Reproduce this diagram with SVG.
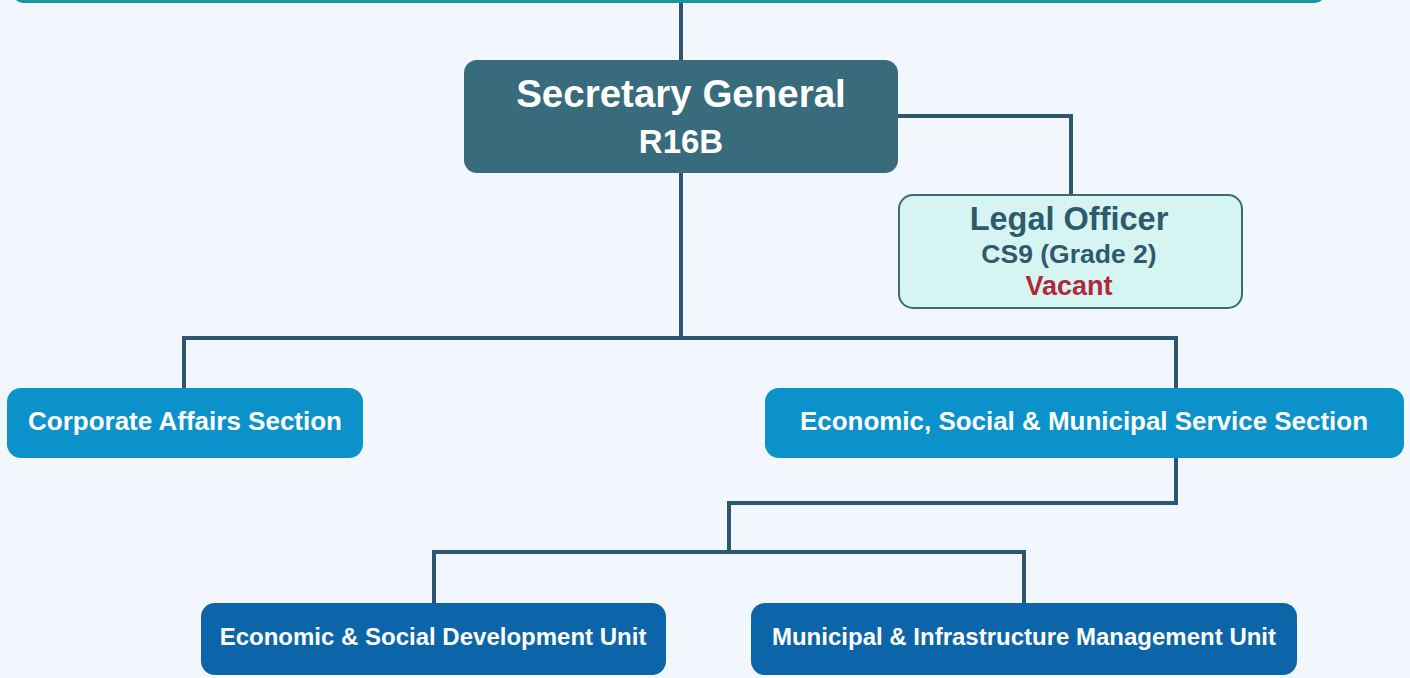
<svg xmlns="http://www.w3.org/2000/svg" width="1410" height="678" viewBox="0 0 1410 678">
<style>
text{font-family:"Liberation Sans",Arial,sans-serif;font-weight:bold;text-anchor:middle}
.w{fill:#ffffff}
.conn{fill:none;stroke:#2f5670;stroke-width:4;stroke-linejoin:miter}
.sec{fill:#0b92cb}
.unit{fill:#0c65a9}
</style>
<rect width="1410" height="678" fill="#f1f7fc"/>
<g id="top"><rect x="13" y="-60" width="1312" height="63" rx="10" fill="#1796a8"/></g>
<g id="connectors">
<path class="conn" d="M681 3V60"/>
<path class="conn" d="M681 173V338M184 388V338H1176V388"/>
<path class="conn" d="M898 116H1071V195"/>
<path class="conn" d="M1176 458V503H729V552M434 603V552H1024V603"/>
</g>
<g id="secretary-general">
<rect x="464" y="60" width="434" height="113" rx="13" fill="#386b7b"/>
<text class="w" x="681" y="107" font-size="38.5">Secretary General</text>
<text class="w" x="681" y="153" font-size="33">R16B</text>
</g>
<g id="legal-officer">
<rect x="899" y="195" width="343" height="113" rx="14" fill="#d5f4f2" stroke="#3a6b7a" stroke-width="2"/>
<text x="1069" y="230" font-size="32.5" fill="#2f5a6c">Legal Officer</text>
<text x="1069" y="263" font-size="26.5" fill="#2f5a6c">CS9 (Grade 2)</text>
<text x="1069" y="295" font-size="27" fill="#b0283a">Vacant</text>
</g>
<g id="corporate-affairs">
<rect class="sec" x="7" y="388" width="356" height="70" rx="14"/>
<text class="w" x="185" y="430" font-size="26">Corporate Affairs Section</text>
</g>
<g id="esms-section">
<rect class="sec" x="765" y="388" width="639" height="70" rx="14"/>
<text class="w" x="1084" y="430" font-size="25" textLength="568" lengthAdjust="spacingAndGlyphs">Economic, Social &amp; Municipal Service Section</text>
</g>
<g id="esd-unit">
<rect class="unit" x="201" y="603" width="465" height="72" rx="14"/>
<text class="w" x="433" y="645" font-size="24">Economic &amp; Social Development Unit</text>
</g>
<g id="mim-unit">
<rect class="unit" x="751" y="603" width="546" height="72" rx="14"/>
<text class="w" x="1024" y="645" font-size="24">Municipal &amp; Infrastructure Management Unit</text>
</g>
</svg>
